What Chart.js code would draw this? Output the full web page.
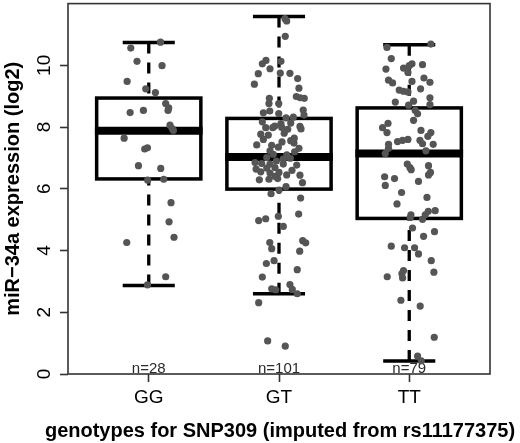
<!DOCTYPE html>
<html>
<head>
<meta charset="utf-8">
<script src="https://cdn.jsdelivr.net/npm/chart.js@4.4.1/dist/chart.umd.min.js"></script>
<style>
  html, body { margin: 0; padding: 0; background: #ffffff; }
  #wrap { width: 520px; height: 443px; position: relative; }
</style>
</head>
<body>
<div id="wrap"><canvas id="c"></canvas></div>
<script>
// ---- data ----
const categories = ['GG', 'GT', 'TT'];
const counts = [28, 101, 79];
const q1 = [6.32, 5.99, 5.04];
const medians = [7.88, 7.03, 7.14];
const q3 = [8.94, 8.28, 8.62];
const whiskerLow = [2.87, 2.60, 0.42];
const whiskerHigh = [10.74, 11.58, 10.67];
const yTicks = [0, 2, 4, 6, 8, 10];
const xTitle = 'genotypes for SNP309 (imputed from rs11177375)';
const yTitle = 'miR\u221234a expression (log2)';

const ggValues = [10.75, 10.56, 10.13, 9.99, 9.48, 9.24, 9.12, 8.76, 8.62, 8.54, 8.47, 8.54, 8.06, 7.89,
  7.64, 7.29, 7.33, 6.75, 6.66, 6.28, 6.31, 5.55, 4.93, 4.43, 4.26, 3.15, 2.89, 7.95];
const ggJitter = [0.090, -0.138, -0.090, 0.102, -0.166, -0.023, 0.051, 0.130, 0.153, 0.148, -0.143, -0.041, 0.163, 0.189,
  -0.189, -0.031, -0.010, -0.079, 0.092, -0.008, 0.115, 0.171, 0.156, 0.194, -0.169, 0.130, -0.010, 0.180];

const gtValues = [11.51, 11.44, 10.94, 10.16, 10.05, 10.13, 9.89, 9.73, 9.75, 9.74, 9.57, 9.39, 9.26, 8.99,
  8.95, 8.93, 8.93, 8.76, 8.76, 8.55, 8.46, 8.52, 8.44, 8.39, 8.30, 8.32, 8.17, 8.11, 8.13, 8.02, 7.98, 7.98,
  8.03, 7.99, 7.93, 7.94, 7.77, 7.74, 7.64, 7.52, 7.56, 7.42, 7.41, 7.35, 7.48, 7.31, 7.23, 7.12, 7.01, 6.96,
  6.99, 6.85, 6.82, 6.80, 6.80, 6.77, 6.64, 6.67, 6.69, 6.55, 6.51, 6.53, 6.45, 6.44, 6.29, 6.31, 6.33, 5.84,
  5.96, 6.07, 5.70, 4.97, 5.03, 5.11, 5.18, 4.78, 4.26, 4.06, 4.32, 4.25, 3.98, 3.58, 3.67, 3.38, 3.14, 2.76,
  2.73, 2.90, 2.74, 2.60, 2.31, 1.07, 0.90, 6.90, 7.10, 7.60, 6.60, 7.20, 6.40, 7.80, 6.20];
const gtJitter = [0.046, 0.059, 0.048, -0.100, -0.128, 0.015, -0.069, -0.159, 0.010, 0.084, 0.143, -0.189, 0.153, 0.133,
  0.163, 0.194, -0.074, -0.077, -0.002, 0.186, -0.120, -0.071, -0.002, 0.192, 0.054, 0.110, -0.128, 0.015, 0.090, 0.161,
  -0.102, -0.048, -0.033, 0.021, 0.067, 0.169, -0.140, -0.082, 0.117, 0.023, 0.090, -0.171, -0.056, -0.005, 0.115, 0.153,
  -0.069, -0.044, -0.094, 0.033, 0.087, -0.184, -0.133, -0.069, 0.033, 0.136, -0.176, -0.094, -0.031, -0.140, -0.069,
  0.000, 0.059, 0.161, -0.151, -0.077, -0.010, -0.061, 0.000, 0.054, 0.166, -0.156, -0.102, -0.005, 0.151, 0.033,
  -0.071, -0.056, 0.182, 0.205, 0.159, -0.097, -0.038, 0.140, -0.128, -0.056, -0.025, 0.084, 0.102, 0.140, -0.156,
  -0.087, 0.048, -0.020, 0.060, -0.120, 0.100, 0.120, -0.030, 0.040, 0.180];

const ttValues = [10.58, 10.69, 10.22, 9.88, 9.91, 9.99, 10.05, 10.02, 9.77, 9.52, 9.43, 9.48, 9.59, 9.45,
  9.20, 9.16, 9.14, 9.24, 8.95, 8.81, 8.84, 8.73, 8.71, 8.54, 8.43, 8.22, 8.12, 7.98, 7.82, 7.89, 7.82, 7.70,
  7.57, 7.46, 7.44, 7.44, 7.53, 7.57, 7.60, 7.31, 7.14, 7.23, 6.80, 6.69, 6.62, 6.75, 6.53, 6.45, 6.39, 6.33,
  6.24, 6.11, 5.88, 5.72, 5.51, 5.16, 5.07, 5.01, 5.16, 5.27, 5.29, 4.73, 4.46, 4.61, 4.14, 4.09, 4.09, 3.89,
  3.67, 3.30, 3.35, 3.25, 3.11, 3.15, 2.39, 2.20, 1.19, 0.58, 0.43];
const ttJitter = [-0.171, 0.166, -0.138, -0.179, -0.044, 0.000, 0.021, 0.102, -0.010, -0.159, -0.128, 0.021, 0.113, 0.159,
  -0.077, -0.044, -0.010, 0.087, 0.159, -0.107, 0.033, 0.159, -0.005, 0.046, 0.064, 0.033, -0.163, -0.205, -0.171, 0.090,
  0.166, 0.143, 0.082, 0.102, 0.184, -0.159, -0.090, -0.051, -0.010, -0.159, -0.184, 0.128, -0.015, 0.005, 0.015, 0.148,
  0.163, 0.148, -0.189, -0.113, 0.071, -0.184, -0.059, 0.136, -0.094, 0.013, 0.008, 0.102, 0.123, 0.146, 0.199, 0.025,
  0.110, 0.194, -0.138, -0.036, 0.041, 0.071, 0.169, 0.189, -0.044, -0.056, -0.051, -0.169, -0.064, 0.084, 0.192,
  0.064, 0.092];

const groupValues = [ggValues, gtValues, ttValues];
const groupJitter = [ggJitter, gtJitter, ttJitter];

// ---- build points ----
const points = [];
groupValues.forEach((vals, g) => {
  vals.forEach((v, i) => points.push({ x: g + 1 + groupJitter[g][i], y: v }));
});

const FONT = "'Liberation Sans', Arial, Helvetica, sans-serif";
const BOX_HALF = 0.4;   // half box width in x units
const CAP_HALF = 0.2;   // half staple width in x units

const boxPlugin = {
  id: 'boxes',
  beforeDatasetsDraw(chart) {
    const ctx = chart.ctx;
    const xs = chart.scales.x, ys = chart.scales.y;
    ctx.save();
    // n= labels
    ctx.fillStyle = '#2a2a2a';
    ctx.font = '15px ' + FONT;
    ctx.textAlign = 'center';
    ctx.textBaseline = 'alphabetic';
    categories.forEach((c, i) => {
      ctx.fillText('n=' + counts[i], xs.getPixelForValue(i + 1), ys.getPixelForValue(0) - 1);
    });
    categories.forEach((c, i) => {
      const cx = xs.getPixelForValue(i + 1);
      const left = xs.getPixelForValue(i + 1 - BOX_HALF);
      const right = xs.getPixelForValue(i + 1 + BOX_HALF);
      const capL = xs.getPixelForValue(i + 1 - CAP_HALF);
      const capR = xs.getPixelForValue(i + 1 + CAP_HALF);
      const yq1 = ys.getPixelForValue(q1[i]);
      const yq3 = ys.getPixelForValue(q3[i]);
      const ymed = ys.getPixelForValue(medians[i]);
      const ylo = ys.getPixelForValue(whiskerLow[i]);
      const yhi = ys.getPixelForValue(whiskerHigh[i]);
      ctx.strokeStyle = '#000000';
      ctx.lineCap = 'butt';
      // whiskers (dashed, from whisker end to box)
      ctx.lineWidth = 3.3;
      ctx.setLineDash([11, 9]);
      ctx.beginPath();
      ctx.moveTo(cx, ylo); ctx.lineTo(cx, yq1);
      ctx.moveTo(cx, yhi); ctx.lineTo(cx, yq3);
      ctx.stroke();
      ctx.setLineDash([]);
      // staples
      ctx.lineWidth = 3.5;
      ctx.beginPath();
      ctx.moveTo(capL, ylo); ctx.lineTo(capR, ylo);
      ctx.moveTo(capL, yhi); ctx.lineTo(capR, yhi);
      ctx.stroke();
      // box
      ctx.fillStyle = '#ffffff';
      ctx.fillRect(left, yq3, right - left, yq1 - yq3);
      ctx.lineWidth = 3.5;
      ctx.strokeRect(left, yq3, right - left, yq1 - yq3);
      // median
      ctx.lineWidth = 8;
      ctx.beginPath();
      ctx.moveTo(left - 1.75, ymed); ctx.lineTo(right + 1.75, ymed);
      ctx.stroke();
    });
    ctx.restore();
  },
  afterDraw(chart) {
    const ctx = chart.ctx;
    const a = chart.chartArea;
    const ys = chart.scales.y;
    ctx.save();
    // frame
    ctx.strokeStyle = '#333333';
    ctx.lineWidth = 1.6;
    ctx.strokeRect(a.left, a.top, a.right - a.left, a.bottom - a.top);
    // rotated y tick labels
    ctx.fillStyle = '#000000';
    ctx.font = '19px ' + FONT;
    ctx.textAlign = 'center';
    ctx.textBaseline = 'alphabetic';
    yTicks.forEach(v => {
      ctx.save();
      ctx.translate(a.left - 18, ys.getPixelForValue(v));
      ctx.rotate(-Math.PI / 2);
      ctx.fillText(String(v), 0, 0);
      ctx.restore();
    });
    // x axis title (not width-limited, like the original)
    ctx.font = 'bold 20px ' + FONT;
    ctx.textAlign = 'center';
    ctx.textBaseline = 'alphabetic';
    ctx.fillText(xTitle, (a.left + a.right) / 2 + 1, a.bottom + 63);
    ctx.restore();
  }
};

new Chart(document.getElementById('c'), {
  type: 'scatter',
  data: {
    datasets: [{
      data: points,
      pointRadius: 3.6,
      pointHoverRadius: 3.6,
      backgroundColor: '#555555',
      borderWidth: 0
    }]
  },
  options: {
    responsive: true,
    maintainAspectRatio: false,
    animation: false,
    devicePixelRatio: 1,
    layout: { padding: { left: 0, right: 30, top: 2, bottom: 0 } },
    plugins: { legend: { display: false }, tooltip: { enabled: false } },
    scales: {
      x: {
        type: 'linear',
        min: 0.38,
        max: 3.62,
        afterBuildTicks: s => { s.ticks = categories.map((c, i) => ({ value: i + 1 })); },
        afterFit: s => { s.height = 69; },
        ticks: {
          color: '#000000',
          padding: 4,
          maxRotation: 0,
          font: { family: FONT, size: 19 },
          callback: v => categories[Math.round(v) - 1]
        },
        grid: { display: true, drawOnChartArea: false, drawTicks: true, tickLength: 8, tickColor: '#333333', tickWidth: 1.6 },
        border: { display: false },
        title: { display: false }
      },
      y: {
        min: 0,
        max: 12,
        afterBuildTicks: s => { s.ticks = yTicks.map(v => ({ value: v })); },
        afterFit: s => { s.width = 68; },
        ticks: { display: false },
        grid: { display: true, drawOnChartArea: false, drawTicks: true, tickLength: 8, tickColor: '#333333', tickWidth: 1.6 },
        border: { display: false },
        title: {
          display: true,
          text: yTitle,
          color: '#000000',
          padding: { top: 1, bottom: 0 },
          font: { family: FONT, size: 20, weight: 'bold' }
        }
      }
    }
  },
  plugins: [boxPlugin]
});
</script>
</body>
</html>
